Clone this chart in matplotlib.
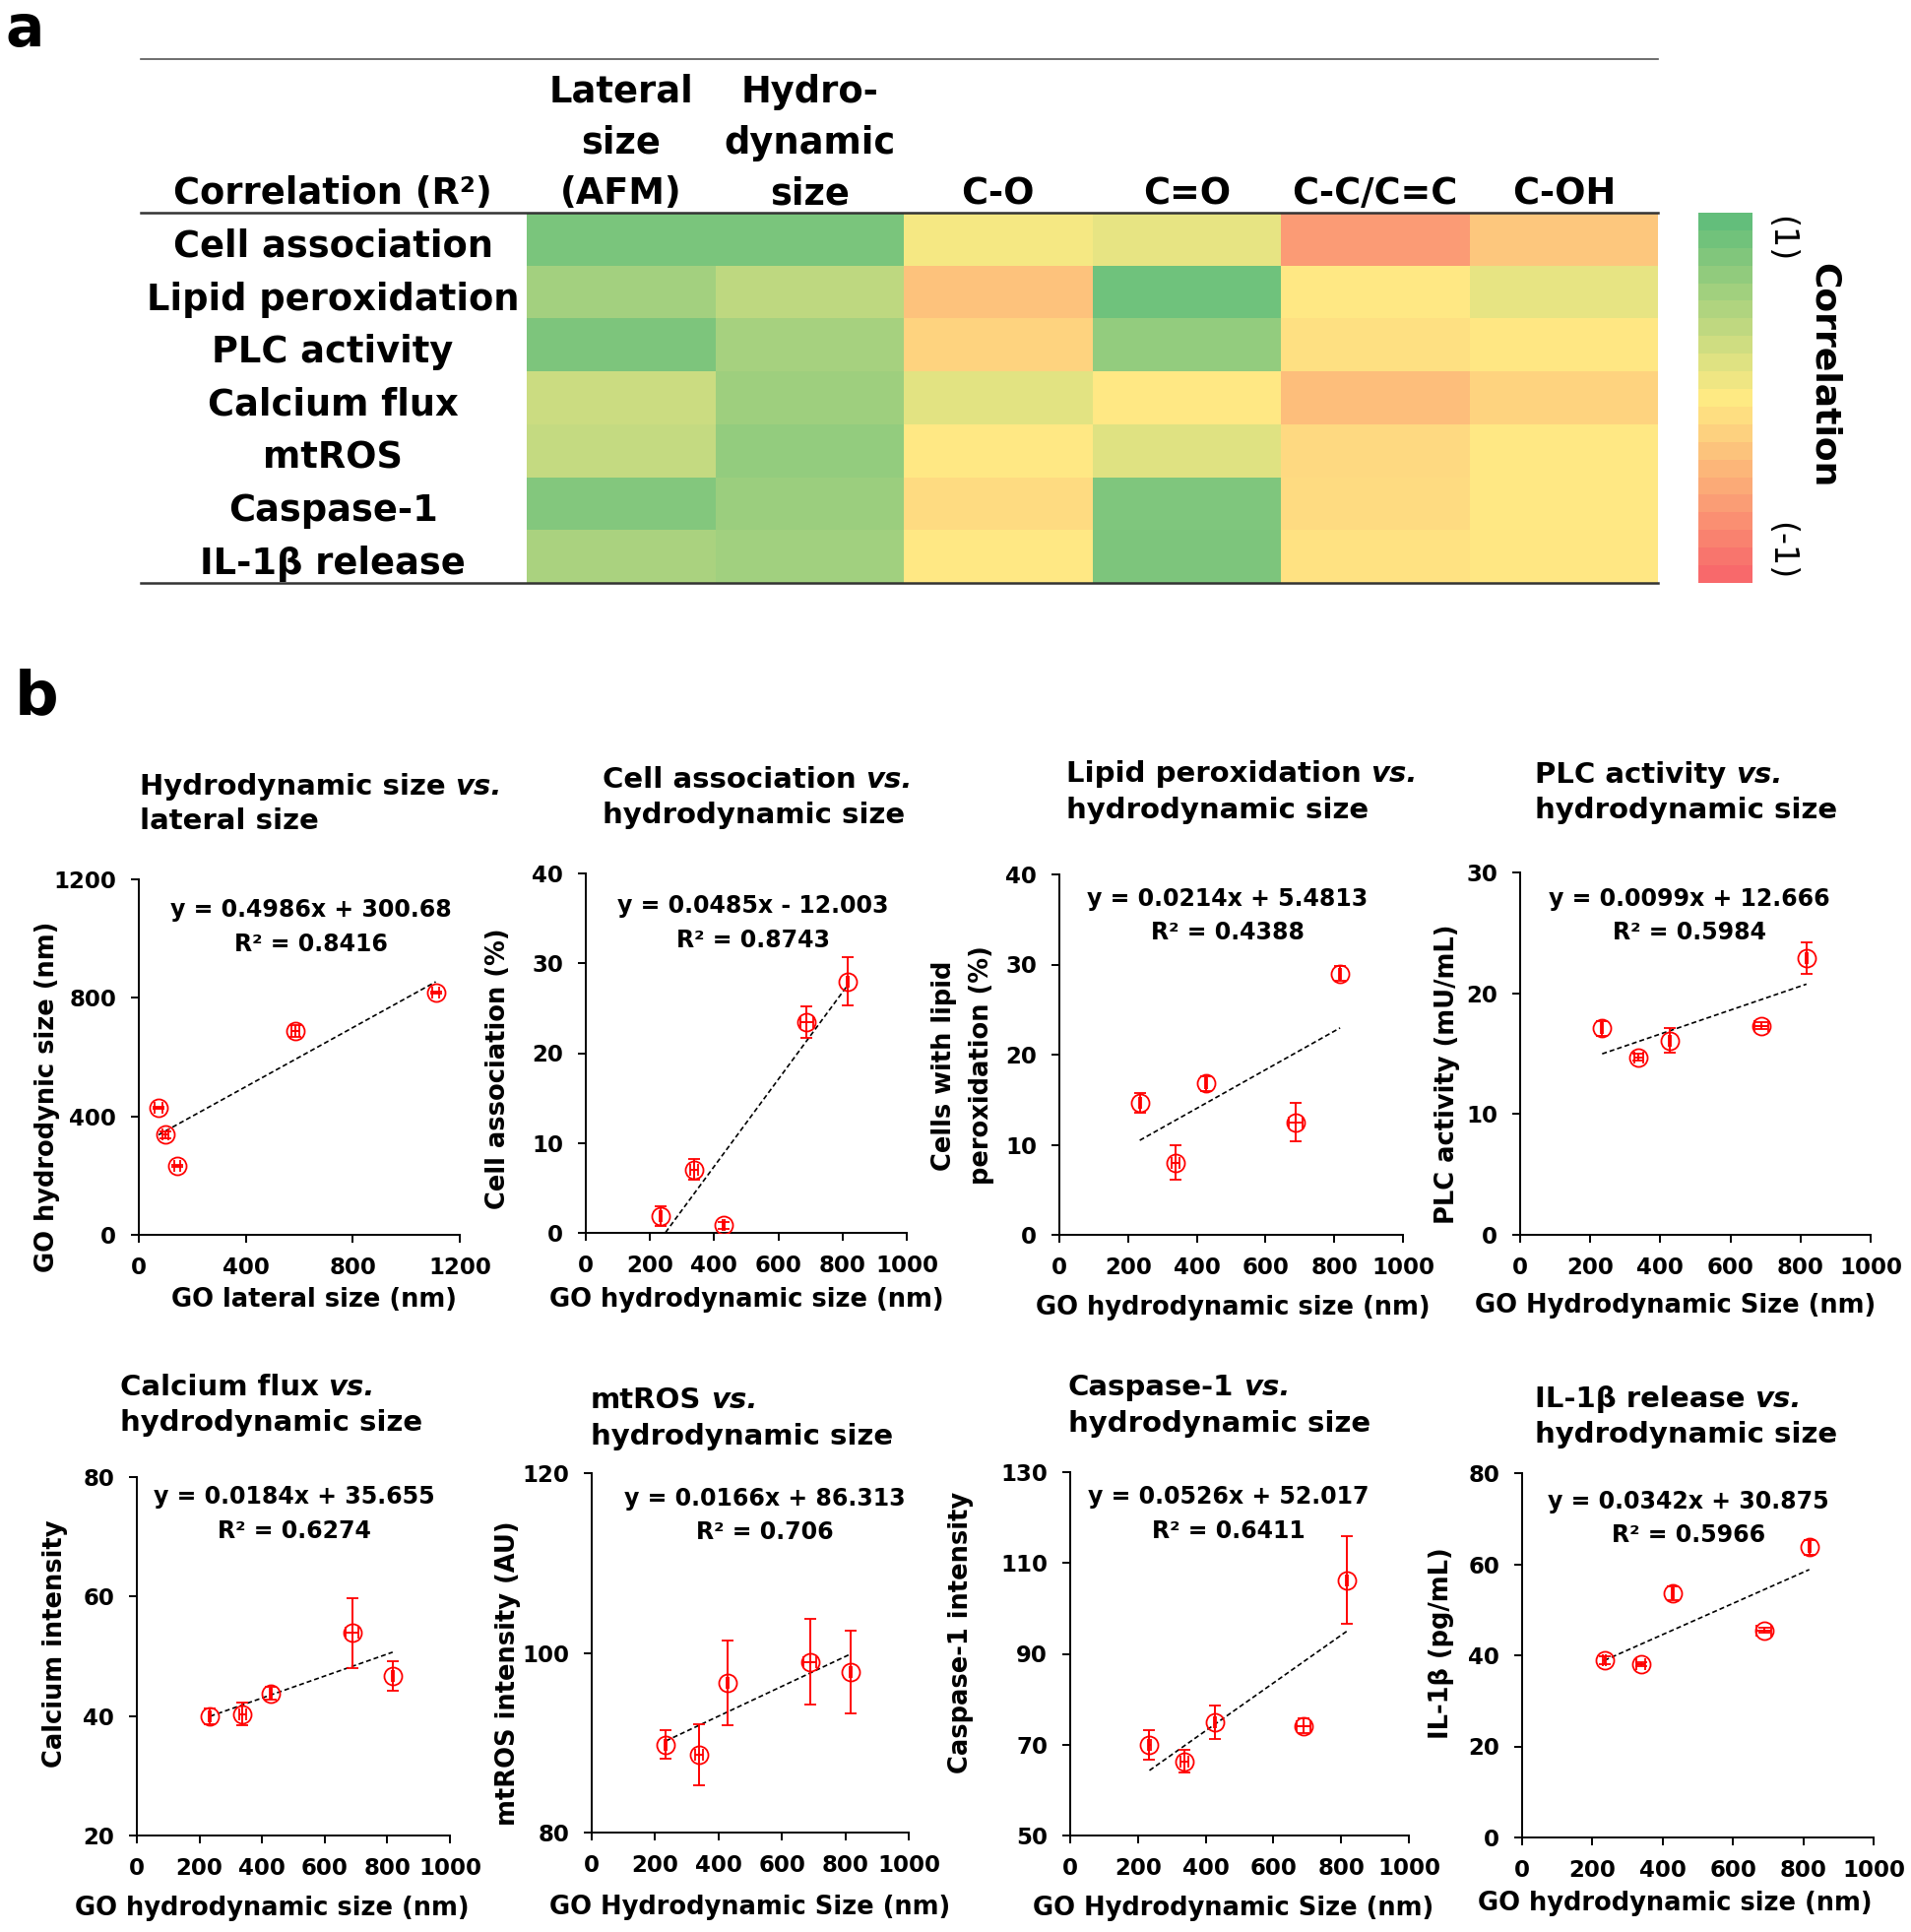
import numpy as np
import matplotlib
matplotlib.use("Agg")
import matplotlib.pyplot as plt
from matplotlib.colors import LinearSegmentedColormap

plt.rcParams['font.family'] = ['DejaVu Sans']
plt.rcParams['font.weight'] = 'bold'

W, H = 1941, 1962

# ---------------- panel a: correlation table ----------------
row_names = ["Cell association", "Lipid peroxidation", "PLC activity",
             "Calcium flux", "mtROS", "Caspase-1", "IL-1β release"]
col_names = [["Lateral", "size", "(AFM)"], ["Hydro-", "dynamic", "size"],
             ["C-O"], ["C=O"], ["C-C/C=C"], ["C-OH"]]
corr = np.array([
    [0.85, 0.85, 0.07, 0.15, -0.61, -0.28],
    [0.59, 0.42, -0.32, 0.92, -0.02, 0.15],
    [0.83, 0.57, -0.18, 0.69, -0.08, -0.03],
    [0.33, 0.62, 0.18, -0.02, -0.35, -0.18],
    [0.38, 0.69, -0.02, 0.21, -0.14, -0.02],
    [0.79, 0.64, -0.12, 0.82, -0.12, -0.02],
    [0.54, 0.60, -0.02, 0.83, -0.07, -0.03],
])
cbar_levels = np.linspace(1, -1, 21)

# ---------------- panel b: scatter data ----------------
hydro_size = [234, 338, 428, 688, 817]
hydro_err = [3, 12, 3, 20, 3]
lateral_size = [143, 99, 74, 586, 1110]
lateral_err = [12, 12, 14, 15, 14]

cell_assoc = [1.9, 7.05, 0.84, 23.5, 28.0]
cell_assoc_err = [1.1, 1.15, 0.4, 1.75, 2.65]
lipid = [14.6, 8.0, 16.8, 12.5, 29.0]
lipid_err = [1.1, 1.9, 0.85, 2.1, 0.8]
plc = [17.1, 14.7, 16.1, 17.3, 22.9]
plc_err = [0.6, 0.3, 1.0, 0.3, 1.3]
calcium = [39.9, 40.3, 43.8, 53.9, 46.7]
calcium_err = [1.3, 1.9, 1.1, 5.8, 2.4]
mtros = [89.8, 88.7, 96.7, 99.0, 97.9]
mtros_err = [1.6, 3.4, 4.7, 4.8, 4.6]
caspase = [70.0, 66.3, 74.9, 74.1, 106.2]
caspase_err = [3.3, 2.5, 3.7, 1.6, 9.6]
il1b = [38.9, 38.0, 53.6, 45.5, 63.7]
il1b_err = [0.8, 0.4, 1.5, 0.5, 1.7]

slopes = [0.4986, 0.0485, 0.0214, 0.0099, 0.0184, 0.0166, 0.0526, 0.0342]
intercepts = [300.68, -12.003, 5.4813, 12.666, 35.655, 86.313, 52.017, 30.875]
r2 = [0.8416, 0.8743, 0.4388, 0.5984, 0.6274, 0.706, 0.6411, 0.5966]

titles = [("Hydrodynamic size", "lateral size"),
          ("Cell association", "hydrodynamic size"),
          ("Lipid peroxidation", "hydrodynamic size"),
          ("PLC activity", "hydrodynamic size"),
          ("Calcium flux", "hydrodynamic size"),
          ("mtROS", "hydrodynamic size"),
          ("Caspase-1", "hydrodynamic size"),
          ("IL-1β release", "hydrodynamic size")]
xlabels = ["GO lateral size (nm)", "GO hydrodynamic size (nm)",
           "GO hydrodynamic size (nm)", "GO Hydrodynamic Size (nm)",
           "GO hydrodynamic size (nm)", "GO Hydrodynamic Size (nm)",
           "GO Hydrodynamic Size (nm)", "GO hydrodynamic size (nm)"]
ylabels = [["GO hydrodynic size (nm)"], ["Cell association (%)"],
           ["Cells with lipid", "peroxidation (%)"], ["PLC activity (mU/mL)"],
           ["Calcium intensity"], ["mtROS intensity (AU)"],
           ["Caspase-1 intensity"], ["IL-1β (pg/mL)"]]
yticks = [[0, 400, 800, 1200], [0, 10, 20, 30, 40], [0, 10, 20, 30, 40],
          [0, 10, 20, 30], [20, 40, 60, 80], [80, 100, 120],
          [50, 70, 90, 110, 130], [0, 20, 40, 60, 80]]
hydro_ticks = [0, 200, 400, 600, 800, 1000]
lateral_ticks = [0, 400, 800, 1200]

series = [(lateral_size, lateral_err, hydro_size, hydro_err),
          (hydro_size, hydro_err, cell_assoc, cell_assoc_err),
          (hydro_size, hydro_err, lipid, lipid_err),
          (hydro_size, hydro_err, plc, plc_err),
          (hydro_size, hydro_err, calcium, calcium_err),
          (hydro_size, hydro_err, mtros, mtros_err),
          (hydro_size, hydro_err, caspase, caspase_err),
          (hydro_size, hydro_err, il1b, il1b_err)]

# ---------------- layout (pixels, origin top-left) ----------------
boxes = [(141, 893, 467, 1254), (595, 887, 921, 1252), (1076, 888, 1425, 1254),
         (1544, 886, 1900, 1254), (139, 1500, 457, 1864), (601, 1496, 923, 1861),
         (1087, 1495, 1431, 1864), (1546, 1496, 1903, 1866)]
title_pos = [(142, 807, 842), (612, 800, 836), (1083, 794, 831), (1559, 795, 831),
             (122, 1417, 1453), (600, 1430, 1467), (1085, 1417, 1454), (1559, 1429, 1465)]
eq_pos = [(316, 931, 966), (765, 927, 962), (1247, 920, 954), (1716, 920, 954),
          (299, 1527, 1562), (777, 1529, 1563), (1248, 1527, 1562), (1715, 1532, 1566)]
xlabel_pos = [(319, 1320), (758, 1320), (1252, 1328), (1702, 1326),
              (276, 1938), (762, 1937), (1253, 1938), (1701, 1933)]
ylabel_pos = [[(48, 1114)], [(506, 1085)], [(959, 1082), (997, 1082)], [(1470, 1091)],
              [(56, 1669)], [(516, 1699)], [(976, 1658)], [(1464, 1669)]]

heat_box = (535, 216, 1684, 592)
cbar_box = (1725, 216, 1780, 592)


def px_axes(fig, box):
    x0, y0, x1, y1 = box
    return fig.add_axes([x0 / W, 1 - y1 / H, (x1 - x0) / W, (y1 - y0) / H])


fig = plt.figure(figsize=(W / 100, H / 100), dpi=100)

cmap = LinearSegmentedColormap.from_list("excel3", ["#f8696b", "#ffeb84", "#63be7b"])

# heatmap
hax = px_axes(fig, heat_box)
hax.pcolormesh(corr, cmap=cmap, vmin=-1, vmax=1)
hax.set_xlim(0, corr.shape[1])
hax.set_ylim(corr.shape[0], 0)
hax.axis("off")

# colour key
cax = px_axes(fig, cbar_box)
cax.imshow(cbar_levels[:, None], cmap=cmap, vmin=-1, vmax=1, aspect="auto",
           interpolation="nearest")
cax.axis("off")

# scatter panels
for i, (x, xe, y, ye) in enumerate(series):
    ax = px_axes(fig, boxes[i])
    ax.errorbar(x, y, xerr=xe, yerr=ye, fmt="o", ms=13, mfc="none", mec="red",
                mew=1.3, ecolor="red", elinewidth=1.4, capsize=4, capthick=1.4,
                zorder=3)
    xs = np.array([min(x), max(x)])
    ax.plot(xs, slopes[i] * xs + intercepts[i], color="black", lw=1.2,
            dashes=(3, 1.8), zorder=2)
    xt = lateral_ticks if i == 0 else hydro_ticks
    ax.set_xlim(xt[0], xt[-1])
    ax.set_xticks(xt)
    ax.set_ylim(yticks[i][0], yticks[i][-1])
    ax.set_yticks(yticks[i])
    for s in ["top", "right"]:
        ax.spines[s].set_visible(False)
    for s in ["left", "bottom"]:
        ax.spines[s].set_linewidth(1.4)
    ax.tick_params(direction="out", length=5.5, width=1.4, labelsize=16.5)
    ax.tick_params(axis="x", pad=10)
    ax.tick_params(axis="y", pad=11)
    for lab in ax.get_xticklabels() + ax.get_yticklabels():
        lab.set_fontweight("bold")
    ax.patch.set_visible(False)

# overlay for free text and rules, pixel coordinates
ov = fig.add_axes([0, 0, 1, 1])
ov.set_xlim(0, W)
ov.set_ylim(H, 0)
ov.axis("off")
ov.set_zorder(10)

ov.text(5, 47, "a", fontsize=42, va="baseline")
ov.text(15, 725, "b", fontsize=45, va="baseline")

# table rules
ov.plot([143, 1684], [60, 60], color="#555555", lw=1.2)
ov.plot([143, 1684], [216, 216], color="#333333", lw=1.8)
ov.plot([143, 1684], [592, 592], color="#333333", lw=1.8)

hx0, hy0, hx1, hy1 = heat_box
cw = (hx1 - hx0) / len(col_names)
rh = (hy1 - hy0) / len(row_names)
head_base = [104, 156, 207]
ov.text(338, 207, "Correlation (R²)", fontsize=26.5, ha="center", va="baseline")
for j, lines in enumerate(col_names):
    cx = hx0 + cw * (j + 0.5)
    for k, line in enumerate(lines):
        ov.text(cx, head_base[3 - len(lines) + k], line, fontsize=26.5,
                ha="center", va="baseline")
for r, name in enumerate(row_names):
    ov.text(338, hy0 + rh * (r + 0.5) + 18, name, fontsize=26.5, ha="center",
            va="baseline")

ov.text(1809, 219, "(1)", fontsize=24, fontweight="normal", rotation=-90,
        ha="center", va="top")
ov.text(1809, 589, "(-1)", fontsize=24, fontweight="normal", rotation=-90,
        ha="center", va="bottom")
ov.text(1853, 381, "Correlation", fontsize=26, rotation=-90, ha="center",
        va="center")

for i in range(len(series)):
    tx, b1, b2 = title_pos[i]
    t = ov.text(tx, b1, titles[i][0], fontsize=21, va="baseline")
    ov.annotate("vs.", xy=(1, 0), xycoords=t, xytext=(7, 0),
                textcoords="offset points", fontsize=21, style="italic",
                va="bottom", ha="left")
    ov.text(tx, b2, titles[i][1], fontsize=21, va="baseline")

    ex, e1, e2 = eq_pos[i]
    sign = "+" if intercepts[i] >= 0 else "-"
    eq = "y = {:.5g}x {} {:.5g}".format(slopes[i], sign, abs(intercepts[i]))
    ov.text(ex, e1, eq, fontsize=17, ha="center", va="baseline")
    ov.text(ex, e2, "R² = {:.4g}".format(r2[i]), fontsize=17, ha="center",
            va="baseline")

    lx, ly = xlabel_pos[i]
    ov.text(lx, ly, xlabels[i], fontsize=18.5, ha="center", va="center")
    for (yx, yy), line in zip(ylabel_pos[i], ylabels[i]):
        ov.text(yx, yy, line, fontsize=18.5, rotation=90, ha="center",
                va="center")

fig.savefig("out.png", dpi=100)
